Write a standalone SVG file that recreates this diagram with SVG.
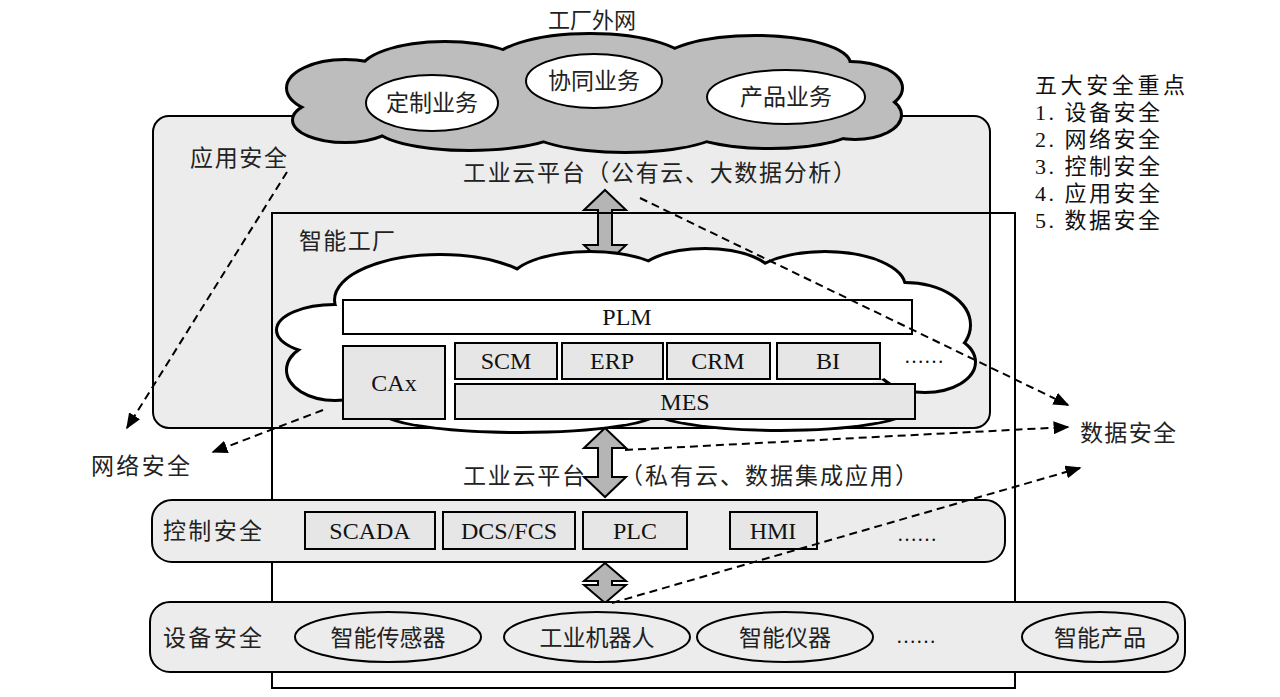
<svg xmlns="http://www.w3.org/2000/svg" width="1280" height="697" viewBox="0 0 1280 697">
<defs>
<style>
.zh{font-family:"Noto Sans CJK SC","Liberation Serif",serif;font-size:23px;fill:#222}
.zl{font-family:"Noto Sans CJK SC","Liberation Serif",serif;font-size:22px;fill:#222}
.en{font-family:"Liberation Serif",serif;font-size:24px;fill:#111}
.lg{font-family:"Liberation Serif","Noto Sans CJK SC",serif;font-size:22px;fill:#111}
.box{fill:#e6e6e6;stroke:#000;stroke-width:2}
.wbox{fill:#fff;stroke:#000;stroke-width:2}
.dash{fill:none;stroke:#000;stroke-width:2;stroke-dasharray:8 5}
.darr{fill:#b5b5b5;stroke:#000;stroke-width:2;stroke-linejoin:miter}
.lane{fill:#ececec;stroke:#000;stroke-width:2}
.ell{fill:#fff;stroke:#000;stroke-width:2}
.dell{fill:#ececec;stroke:#000;stroke-width:2}
</style>
<marker id="ah" viewBox="0 0 10 10" refX="9" refY="5" markerWidth="16" markerHeight="13" markerUnits="userSpaceOnUse" orient="auto" preserveAspectRatio="none">
<path d="M0,0 L10,5 L0,10 Z" fill="#000"/>
</marker>
</defs>
<rect width="1280" height="697" fill="#fff"/>

<g id="app-security">
<rect x="153" y="116" width="837" height="312" rx="16" class="lane"/>
<text class="zh" x="190" y="166" textLength="97" lengthAdjust="spacing">应用安全</text>
<text class="zh" x="463" y="181" textLength="393" lengthAdjust="spacing">工业云平台（公有云、大数据分析）</text>
</g>

<g id="external-cloud">
<text class="zl" x="548" y="28" textLength="88" lengthAdjust="spacing">工厂外网</text>
<g stroke="#000" stroke-width="4" fill="#bdbdbd">
<ellipse cx="345" cy="88" rx="58" ry="28"/>
<ellipse cx="345" cy="120" rx="52" ry="22"/>
<ellipse cx="445" cy="72" rx="85" ry="30"/>
<ellipse cx="590" cy="66" rx="100" ry="32"/>
<ellipse cx="755" cy="64" rx="95" ry="28"/>
<ellipse cx="850" cy="88" rx="52" ry="26"/>
<ellipse cx="855" cy="115" rx="46" ry="24"/>
<ellipse cx="470" cy="126" rx="95" ry="24"/>
<ellipse cx="625" cy="126" rx="100" ry="26"/>
<ellipse cx="770" cy="124" rx="90" ry="24"/>
</g>
<g fill="#bdbdbd">
<ellipse cx="345" cy="88" rx="57" ry="27"/>
<ellipse cx="345" cy="120" rx="51" ry="21"/>
<ellipse cx="445" cy="72" rx="84" ry="29"/>
<ellipse cx="590" cy="66" rx="99" ry="31"/>
<ellipse cx="755" cy="64" rx="94" ry="27"/>
<ellipse cx="850" cy="88" rx="51" ry="25"/>
<ellipse cx="855" cy="115" rx="45" ry="23"/>
<ellipse cx="470" cy="126" rx="94" ry="23"/>
<ellipse cx="625" cy="126" rx="99" ry="25"/>
<ellipse cx="770" cy="124" rx="89" ry="23"/>
<ellipse cx="600" cy="96" rx="270" ry="40"/>
</g>
<ellipse cx="432" cy="103" rx="66" ry="28" class="ell"/>
<text class="zh" x="432" y="111" text-anchor="middle">定制业务</text>
<ellipse cx="594" cy="81" rx="68" ry="27" class="ell"/>
<text class="zh" x="594" y="89" text-anchor="middle">协同业务</text>
<ellipse cx="786" cy="97" rx="79" ry="27" class="ell"/>
<text class="zh" x="786" y="105" text-anchor="middle">产品业务</text>
</g>

<g id="arrow-cloud">
<path class="darr" d="M605,190 L626,210 L612,210 L612,245 L626,245 L605,265 L584,245 L598,245 L598,210 L584,210 Z"/>
</g>

<g id="internal-cloud">
<g stroke="#000" stroke-width="4" fill="#fff">
<ellipse cx="440" cy="300" rx="105" ry="45"/>
<ellipse cx="590" cy="282" rx="80" ry="30"/>
<ellipse cx="705" cy="277" rx="68" ry="28"/>
<ellipse cx="825" cy="287" rx="80" ry="35"/>
<ellipse cx="905" cy="325" rx="65" ry="42"/>
<ellipse cx="335" cy="330" rx="58" ry="25"/>
<ellipse cx="335" cy="370" rx="48" ry="30"/>
<ellipse cx="925" cy="362" rx="50" ry="30"/>
<ellipse cx="520" cy="410" rx="140" ry="22"/>
<ellipse cx="780" cy="408" rx="130" ry="22"/>
</g>
<g fill="#fff">
<ellipse cx="440" cy="300" rx="104" ry="44"/>
<ellipse cx="590" cy="282" rx="79" ry="29"/>
<ellipse cx="705" cy="277" rx="67" ry="27"/>
<ellipse cx="825" cy="287" rx="79" ry="34"/>
<ellipse cx="905" cy="325" rx="64" ry="41"/>
<ellipse cx="335" cy="330" rx="57" ry="24"/>
<ellipse cx="335" cy="370" rx="47" ry="29"/>
<ellipse cx="925" cy="362" rx="49" ry="29"/>
<ellipse cx="520" cy="410" rx="139" ry="21"/>
<ellipse cx="780" cy="408" rx="129" ry="21"/>
<ellipse cx="625" cy="345" rx="300" ry="66"/>
</g>
</g>

<g id="smart-factory">
<rect x="272" y="213" width="743" height="475" fill="none" stroke="#000" stroke-width="2"/>
<text class="zh" x="299" y="249" textLength="96" lengthAdjust="spacing">智能工厂</text>
</g>

<g id="plm"><rect x="343" y="300" width="569" height="34" class="wbox"/><text class="en" x="627" y="325" text-anchor="middle">PLM</text></g>
<g id="cax"><rect x="343" y="346" width="102" height="73" class="box"/><text class="en" x="394" y="391" text-anchor="middle">CAx</text></g>
<g id="scm"><rect x="455" y="343" width="102" height="36" class="box"/><text class="en" x="506" y="369" text-anchor="middle">SCM</text></g>
<g id="erp"><rect x="562" y="343" width="101" height="36" class="box"/><text class="en" x="612" y="369" text-anchor="middle">ERP</text></g>
<g id="crm"><rect x="667" y="343" width="103" height="36" class="box"/><text class="en" x="718" y="369" text-anchor="middle">CRM</text></g>
<g id="bi"><rect x="777" y="343" width="103" height="36" class="box"/><text class="en" x="828" y="369" text-anchor="middle">BI</text></g>
<g id="more1"><text class="en" x="924" y="363" text-anchor="middle" style="font-size:20px">……</text></g>
<g id="mes"><rect x="455" y="384" width="460" height="35" class="box"/><text class="en" x="685" y="410" text-anchor="middle">MES</text></g>

<g id="arrow-private">
<path class="darr" d="M605,428 L626,448 L612,448 L612,477 L626,477 L605,497 L584,477 L598,477 L598,448 L584,448 Z"/>
<text class="zh" x="463" y="484" textLength="122" lengthAdjust="spacing">工业云平台</text>
<text class="zh" x="620" y="484" textLength="298" lengthAdjust="spacing">（私有云、数据集成应用）</text>
</g>

<g id="net-label"><text class="zh" x="91" y="474" textLength="99" lengthAdjust="spacing">网络安全</text></g>
<g id="data-label"><text class="zh" x="1080" y="441" textLength="96" lengthAdjust="spacing">数据安全</text></g>

<g id="control-security">
<rect x="152" y="500" width="853" height="62" rx="20" class="lane"/>
<text class="zh" x="163" y="539" textLength="99" lengthAdjust="spacing">控制安全</text>
</g>
<g id="scada"><rect x="305" y="512" width="130" height="37" class="box"/><text class="en" x="370" y="539" text-anchor="middle">SCADA</text></g>
<g id="dcs"><rect x="443" y="512" width="132" height="37" class="box"/><text class="en" x="509" y="539" text-anchor="middle">DCS/FCS</text></g>
<g id="plc"><rect x="583" y="512" width="104" height="37" class="box"/><text class="en" x="635" y="539" text-anchor="middle">PLC</text></g>
<g id="hmi"><rect x="730" y="512" width="87" height="37" class="box"/><text class="en" x="773" y="539" text-anchor="middle">HMI</text></g>
<g id="more2"><text class="en" x="917" y="541" text-anchor="middle" style="font-size:20px">……</text></g>

<g id="arrow-device">
<path class="darr" d="M605,563 L626,581 L612,581 L612,585 L626,585 L605,603 L584,585 L598,585 L598,581 L584,581 Z"/>
</g>

<g id="device-security">
<rect x="150" y="602" width="1035" height="70" rx="20" class="lane"/>
<text class="zh" x="163" y="646" textLength="99" lengthAdjust="spacing">设备安全</text>
</g>
<g id="sensor"><ellipse cx="388" cy="637" rx="93" ry="25" class="dell"/><text class="zh" x="388" y="646" text-anchor="middle">智能传感器</text></g>
<g id="robot"><ellipse cx="597" cy="637" rx="93" ry="25" class="dell"/><text class="zh" x="597" y="646" text-anchor="middle">工业机器人</text></g>
<g id="instrument"><ellipse cx="785" cy="637" rx="88" ry="25" class="dell"/><text class="zh" x="785" y="646" text-anchor="middle">智能仪器</text></g>
<g id="more3"><text class="en" x="916" y="643" text-anchor="middle" style="font-size:20px">……</text></g>
<g id="product"><ellipse cx="1100" cy="637" rx="78" ry="25" class="dell"/><text class="zh" x="1100" y="646" text-anchor="middle">智能产品</text></g>

<g id="connectors">
<line class="dash" x1="287" y1="172" x2="127" y2="428" marker-end="url(#ah)"/>
<line class="dash" x1="323" y1="410" x2="213" y2="452" marker-end="url(#ah)"/>
<line class="dash" x1="640" y1="198" x2="1068" y2="405" marker-end="url(#ah)"/>
<line class="dash" x1="625" y1="450" x2="1068" y2="427" marker-end="url(#ah)"/>
<line class="dash" x1="612" y1="603" x2="1080" y2="468" marker-end="url(#ah)"/>
</g>

<g id="legend">
<text class="lg" x="1035" y="93" textLength="150" lengthAdjust="spacing">五大安全重点</text>
<text class="lg" x="1035" y="120" textLength="125" lengthAdjust="spacing">1. 设备安全</text>
<text class="lg" x="1035" y="147" textLength="125" lengthAdjust="spacing">2. 网络安全</text>
<text class="lg" x="1035" y="174" textLength="125" lengthAdjust="spacing">3. 控制安全</text>
<text class="lg" x="1035" y="201" textLength="125" lengthAdjust="spacing">4. 应用安全</text>
<text class="lg" x="1035" y="228" textLength="125" lengthAdjust="spacing">5. 数据安全</text>
</g>
</svg>
